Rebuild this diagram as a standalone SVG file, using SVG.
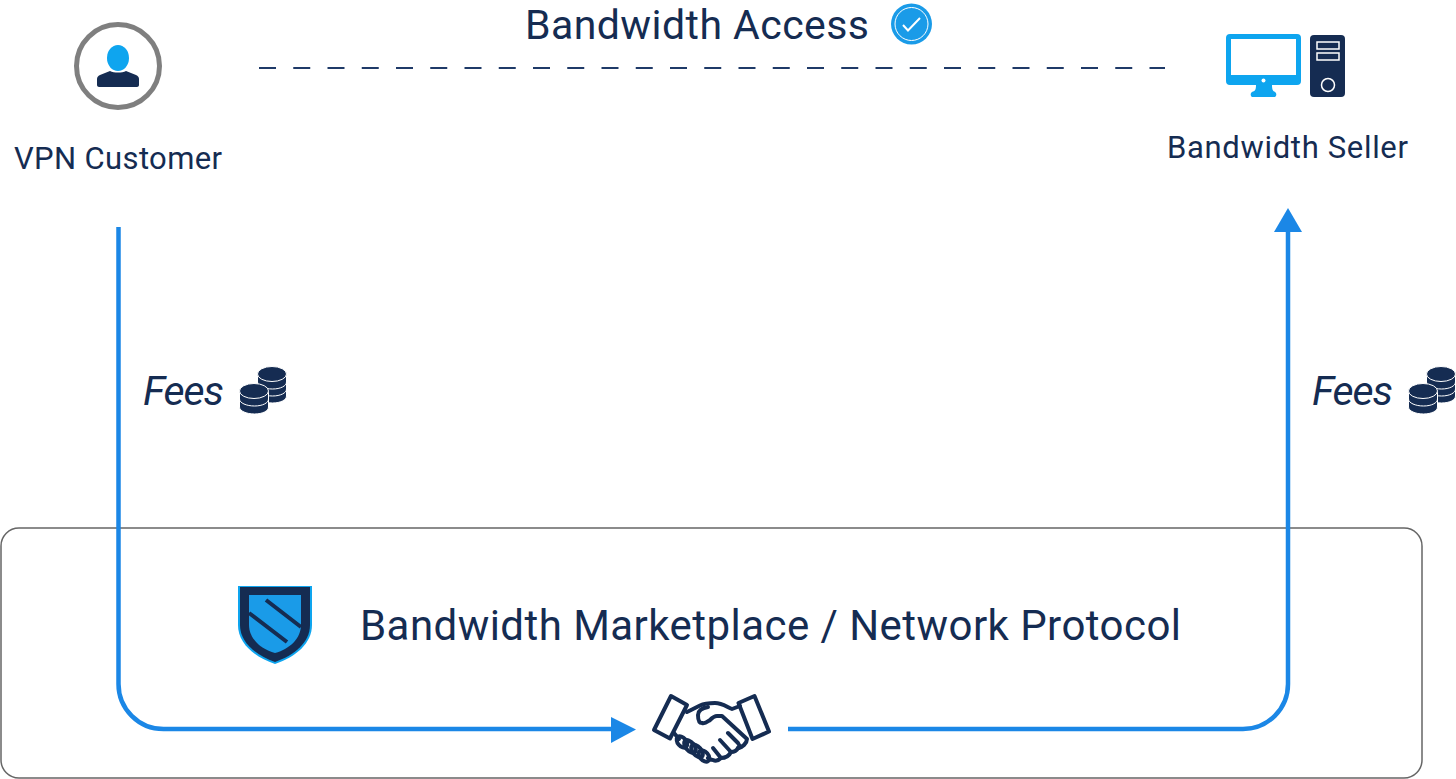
<svg xmlns="http://www.w3.org/2000/svg" width="1456" height="779" viewBox="0 0 1456 779">
<style>
text{font-family:Roboto,"Noto Sans","Liberation Sans",sans-serif;fill:#152c52}
.flow{fill:none;stroke:#1b87e6;stroke-width:4.5}
.hand{fill:none;stroke:#152c52;stroke-width:4;stroke-linejoin:round;stroke-linecap:round}
.navy{fill:#152c52}
.cyan{fill:#0ea5ef}
.coin{fill:#152c52;stroke:#fff;stroke-width:1}
</style>
<defs>
<g id="coins">
<path class="coin" d="M18 9v21c0 4 7 7 15 7s14-3 14-7V9z"/>
<path fill="none" stroke="#fff" stroke-width="1" d="M18 16c0 4 7 7 15 7s14-3 14-7M18 23c0 4 7 7 15 7s14-3 14-7"/>
<ellipse class="coin" cx="32.500" cy="8" rx="14.500" ry="7.500"/>
<path class="coin" d="M0 26v15c0 4 7 7 15 7s14-3 14-7V26z"/>
<path fill="none" stroke="#fff" stroke-width="1" d="M0 33c0 4 7 7 15 7s14-3 14-7"/>
<ellipse class="coin" cx="14.500" cy="25" rx="14.500" ry="7.500"/>
</g>
</defs>
<g id="marketplace">
<rect x="1" y="528" width="1421" height="250" rx="18" fill="none" stroke="#666" stroke-width="1.500"/>
<text x="360" y="640" font-size="42" textLength="821" lengthAdjust="spacing">Bandwidth Marketplace / Network Protocol</text>
<g id="shield">
<path d="M238 586H312V625C312 643 296 657 275 664C254 657 238 643 238 625Z" fill="#0ea5ef"/>
<path d="M240 587H310V625C310 642 295 655 275 662C255 655 240 642 240 625Z" class="navy"/>
<path d="M249 595H301V625C301 638 290 649 275 653C260 649 249 638 249 625Z" fill="#1a9be8"/>
<path d="M266 600L301 627M249 613L287 642" fill="none" stroke="#152c52" stroke-width="4"/>
</g>
</g>
<g id="connectors">
<path class="flow" d="M118.500 227V684A45 45 0 0 0 163.500 729H613"/>
<path d="M611 717L636 729.500L611 743Z" fill="#1b87e6"/>
<path class="flow" d="M788 729H1243A45 45 0 0 0 1288 684V230"/>
<path d="M1288 208L1302 232H1274Z" fill="#1b87e6"/>
<path d="M259 68H1165" fill="none" stroke="#1f3a68" stroke-width="2" stroke-dasharray="17 17.250"/>
</g>
<g id="customer">
<circle cx="118" cy="66" r="41.500" fill="#fff" stroke="#7f7f7f" stroke-width="5"/>
<ellipse class="cyan" cx="118" cy="58" rx="11" ry="13"/>
<path class="navy" d="M97 82V79C97 77 98 76 100 75L110 71C114 73 122 73 126 71L136 75C138 76 139 77 139 79V85C139 86 138 87 137 87H99C98 87 97 86 97 85Z"/>
<text x="14" y="169" font-size="31" textLength="208" lengthAdjust="spacing">VPN Customer</text>
</g>
<g id="seller">
<path class="cyan" fill-rule="evenodd" d="M1230 34H1297A4 4 0 0 1 1301 38V81A4 4 0 0 1 1297 85H1272C1272 90 1273 91 1275 92H1275A3 3 0 0 1 1275 97H1252A3 3 0 0 1 1252 92C1255 91 1256 90 1256 85H1230A4 4 0 0 1 1226 81V38A4 4 0 0 1 1230 34ZM1231 39V75H1296V39Z"/>
<circle cx="1263.500" cy="80.500" r="2" fill="#fff"/>
<rect class="navy" x="1310" y="35" width="35" height="62" rx="4"/>
<g fill="none" stroke="#fff" stroke-width="1.500"><rect x="1317" y="42" width="22" height="7"/><rect x="1317" y="53" width="22" height="7"/><circle cx="1328" cy="85" r="6.500"/></g>
<text x="1167" y="158" font-size="31" textLength="241" lengthAdjust="spacing">Bandwidth Seller</text>
</g>
<g id="access">
<text x="525" y="39" font-size="41" textLength="344" lengthAdjust="spacing">Bandwidth Access</text>
<circle cx="911.500" cy="24" r="20.500" fill="#1a9be8"/>
<circle cx="911.500" cy="24" r="16.500" fill="none" stroke="#fff" stroke-width="1"/>
<path d="M903 25L908 30.500L920 18" fill="none" stroke="#fff" stroke-width="2"/>
</g>
<g id="fees-left">
<text x="143" y="405" font-size="41" font-style="italic" textLength="81" lengthAdjust="spacing">Fees</text>
<use href="#coins" x="239.500" y="366"/>
</g>
<g id="fees-right">
<text x="1312" y="405" font-size="41" font-style="italic" textLength="81" lengthAdjust="spacing">Fees</text>
<use href="#coins" x="1408.500" y="366"/>
</g>
<g id="handshake" class="hand">
<path d="M671 696L687 705L670 738.500L654 730Z"/>
<path d="M738.500 703L754.500 696L769 731.500L752.500 739Z"/>
<path d="M687 712L700 705.500C705 703 710 703 715 703C722 703 727 707 732 709L740 706"/>
<path d="M708 707C702 708 698 711 698 715C698 720 699 723 702 723C705 724 707 722 710 720C712 718 714 716 717 716H722L747 739C747 743 742 748 738 748"/>
<path d="M728 733L738 743C740 746 740 748 738 748C736 752 733 752 731 752C729 756 725 758 721 758C718 761 715 761 713 760C711 760 709 759 708 758"/>
<path d="M720 740L731 752M713 748L721 758"/>
<path d="M674 733L679 739"/>
<ellipse cx="682" cy="742" rx="6.500" ry="4.200" transform="rotate(50 682 742)"/>
<ellipse cx="690" cy="746.500" rx="7.500" ry="4.200" transform="rotate(50 690 746.500)"/>
<ellipse cx="697" cy="751" rx="7.500" ry="4.200" transform="rotate(50 697 751)"/>
<ellipse cx="704" cy="756" rx="6.500" ry="4.200" transform="rotate(50 704 756)"/>
</g>
</svg>
